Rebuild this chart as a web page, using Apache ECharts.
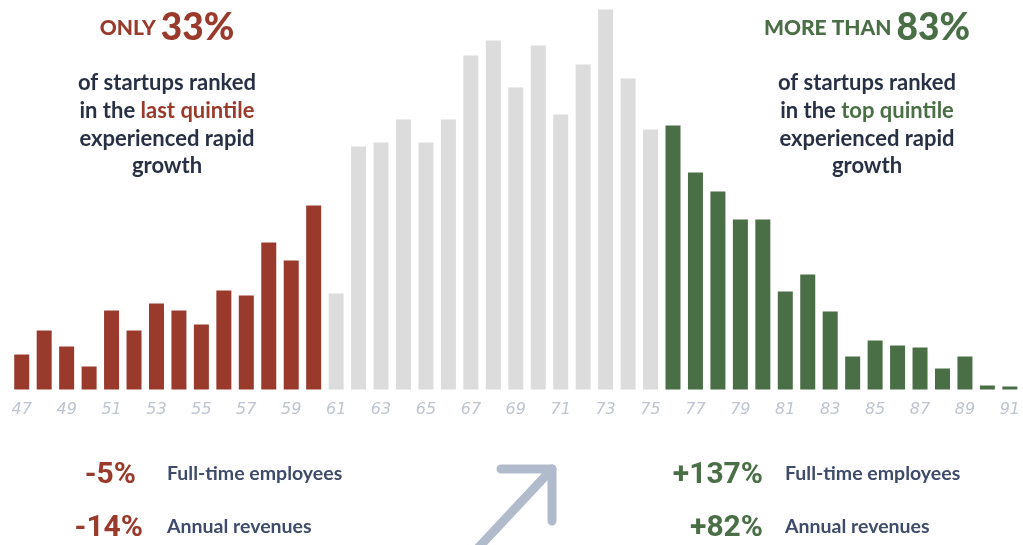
<!DOCTYPE html>
<html>
<head>
<meta charset="utf-8">
<script src="https://cdn.jsdelivr.net/npm/echarts@6/dist/echarts.min.js"></script>
<style>
html,body{margin:0;padding:0;background:#fff;}
#c{width:1023px;height:545px;}
</style>
</head>
<body>
<div id="c"></div>
<script>
// Categories: score 47..91
const categories = [];
for (let s = 47; s <= 91; s++) categories.push(String(s));

// Bar heights (relative)
const lastQuintile = [35, 59, 43, 23, 79, 59, 86, 79, 65, 99, 94, 147, 129, 184];           // 47-60
const middle = [96, 243, 247, 270, 247, 270, 334, 349, 302, 344, 275, 325, 380, 311, 260];   // 61-75
const topQuintile = [264, 217, 198, 170, 170, 98, 115, 78, 33, 49, 44, 42, 21, 33, 4, 3];     // 76-91

const RED = '#9a3a2d', GREY = '#dcdcdc', GREEN = '#4a6e45', NAVY = '#283044', LABEL = '#3f4b6a';

const data = [];
lastQuintile.forEach(v => data.push({value: v, itemStyle: {color: RED}}));
middle.forEach(v => data.push({value: v, itemStyle: {color: GREY}}));
topQuintile.forEach(v => data.push({value: v, itemStyle: {color: GREEN}}));

const chart = echarts.init(document.getElementById('c'), null, {renderer: 'canvas'});
const F = 'Lato, "Open Sans", sans-serif';

function block(cx, heads, highlight, hiColor) {
  return [
    {type: 'text', style: {x: cx, y: 28, align: 'center', verticalAlign: 'middle',
      text: '{a|' + heads[0] + ' }{b|' + heads[1] + '}',
      rich: {a: {fontFamily: F, fontWeight: 900, fontSize: 21, fill: hiColor},
             b: {fontFamily: F, fontWeight: 900, fontSize: 37, fill: hiColor}}}},
    {type: 'text', style: {x: cx, y: 83, align: 'center', verticalAlign: 'middle', text: 'of startups ranked',
      font: '700 22px ' + F, fill: NAVY}},
    {type: 'text', style: {x: cx, y: 111, align: 'center', verticalAlign: 'middle',
      text: '{n|in the }{h|' + highlight + '}',
      rich: {n: {fontFamily: F, fontWeight: 700, fontSize: 22, fill: NAVY},
             h: {fontFamily: F, fontWeight: 700, fontSize: 22, fill: hiColor}}}},
    {type: 'text', style: {x: cx, y: 139, align: 'center', verticalAlign: 'middle', text: 'experienced rapid',
      font: '700 22px ' + F, fill: NAVY}},
    {type: 'text', style: {x: cx, y: 166, align: 'center', verticalAlign: 'middle', text: 'growth',
      font: '700 22px ' + F, fill: NAVY}}
  ];
}

const NUMF = 'Roboto, "Open Sans", sans-serif';
function stat(xr, y, num, color, lbl, xl) {
  return [
    {type: 'text', style: {x: xr, y: y, align: 'right', verticalAlign: 'middle', text: num,
      font: '700 30px ' + NUMF, fill: color}},
    {type: 'text', style: {x: xl, y: y - 1, align: 'left', verticalAlign: 'middle', text: lbl,
      font: '700 19.5px ' + F, fill: LABEL}}
  ];
}

const graphics = [].concat(
  block(167, ['ONLY', '33%'], 'last quintile', RED),
  block(867, ['MORE THAN', '83%'], 'top quintile', GREEN),
  stat(136, 475, '-5%', RED, 'Full-time employees', 167),
  stat(143, 528, '-14%', RED, 'Annual revenues', 167),
  stat(763, 475, '+137%', GREEN, 'Full-time employees', 785),
  stat(763, 528, '+82%', GREEN, 'Annual revenues', 785),
  [
    {type: 'polyline', shape: {points: [[478, 548], [552, 469]]},
      style: {stroke: '#b1bbcb', lineWidth: 9, lineCap: 'round', fill: null}},
    {type: 'polyline', shape: {points: [[501, 469], [552, 469], [552, 521]]},
      style: {stroke: '#b1bbcb', lineWidth: 9, lineCap: 'round', lineJoin: 'round', fill: null}}
  ]
);

chart.setOption({
  animation: false,
  backgroundColor: '#ffffff',
  grid: {left: 10.5, top: 0, width: 1014, height: 389.5, containLabel: false},
  xAxis: {
    type: 'category', data: categories,
    axisLine: {show: false}, axisTick: {show: false},
    axisLabel: {interval: 1, margin: 12, fontFamily: '"DejaVu Sans", sans-serif', fontStyle: 'italic',
      fontSize: 16, color: '#bec5d0'}
  },
  yAxis: {type: 'value', min: 0, max: 389.5, show: false, splitLine: {show: false}},
  series: [{
    type: 'bar', data: data, barWidth: 15, silent: true
  }],
  graphic: graphics
});
</script>
</body>
</html>
